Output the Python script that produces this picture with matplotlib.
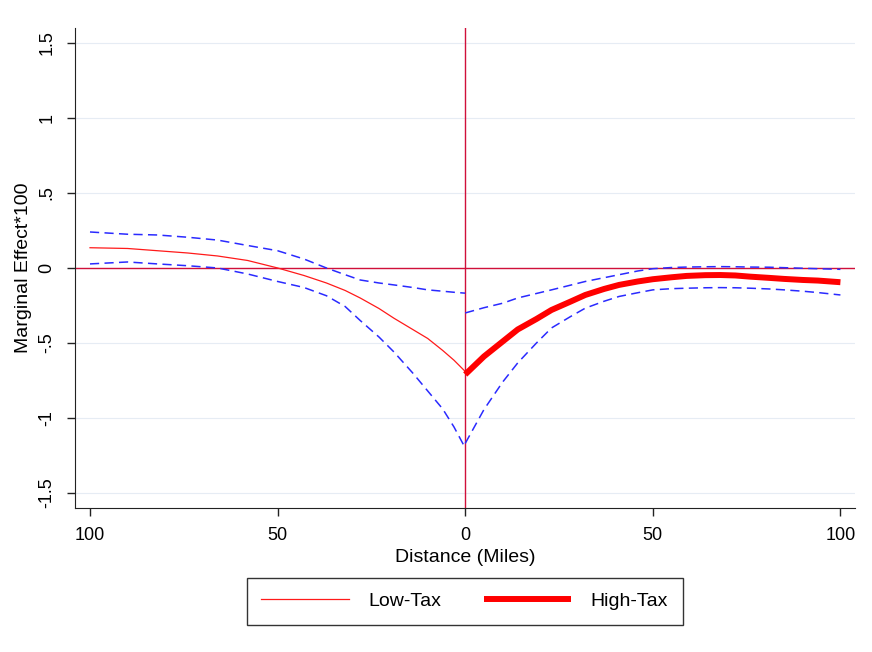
import matplotlib.pyplot as plt

plt.rcParams['font.family'] = ['Liberation Sans', 'DejaVu Sans']

# low-tax side (distance plotted to the left of the border)
low_x = [-100, -90, -82, -74, -66, -58, -50, -43, -37, -32, -28, -23, -19, -14, -10, -6, -3, 0]
low_est = [0.135, 0.130, 0.115, 0.100, 0.080, 0.050, 0.000, -0.050, -0.100, -0.150, -0.200, -0.270,
           -0.335, -0.410, -0.470, -0.550, -0.615, -0.690]
low_hi = [0.240, 0.225, 0.220, 0.205, 0.186, 0.150, 0.115, 0.060, 0.000, -0.045, -0.080, -0.100,
          -0.113, -0.130, -0.146, -0.155, -0.162, -0.168]
low_lo = [0.027, 0.040, 0.027, 0.015, 0.000, -0.040, -0.090, -0.130, -0.185, -0.257, -0.350, -0.460,
          -0.560, -0.700, -0.820, -0.940, -1.060, -1.200]

# high-tax side
high_x = [0, 5, 10, 14, 19, 23, 28, 32, 37, 41, 46, 50, 55, 59, 64, 68, 72, 76, 81, 85, 90, 94, 100]
high_est = [-0.710, -0.590, -0.490, -0.410, -0.340, -0.280, -0.225, -0.180, -0.140, -0.113, -0.090,
            -0.075, -0.062, -0.053, -0.048, -0.047, -0.050, -0.058, -0.066, -0.073, -0.080, -0.084, -0.095]
high_hi = [-0.300, -0.265, -0.235, -0.200, -0.170, -0.146, -0.115, -0.090, -0.065, -0.045, -0.020,
           -0.005, 0.003, 0.006, 0.008, 0.009, 0.008, 0.006, 0.005, 0.002, -0.002, -0.005, -0.009]
high_lo = [-1.170, -0.944, -0.760, -0.633, -0.500, -0.400, -0.325, -0.268, -0.222, -0.190, -0.165,
           -0.146, -0.138, -0.135, -0.132, -0.131, -0.132, -0.135, -0.140, -0.146, -0.155, -0.164, -0.180]

yticks = [-1.5, -1, -0.5, 0, 0.5, 1, 1.5]
ytick_labels = ['-1.5', '-1', '-.5', '0', '.5', '1', '1.5']
xticks = [-100, -50, 0, 50, 100]
xtick_labels = ['100', '50', '0', '50', '100']

fig = plt.figure(figsize=(8.72, 6.52), dpi=100)
ax = fig.add_axes([0.086, 0.221, 0.895, 0.736])

dash = (0, (6, 3.5))
ax.plot(low_x, low_hi, color='#2a2aff', lw=1.1, linestyle=dash)
ax.plot(low_x, low_lo, color='#2a2aff', lw=1.1, linestyle=dash)
ax.plot(high_x, high_hi, color='#2a2aff', lw=1.1, linestyle=dash)
ax.plot(high_x, high_lo, color='#2a2aff', lw=1.1, linestyle=dash)
l1, = ax.plot(low_x, low_est, color='#ff1a1a', lw=0.9, label='Low-Tax')
l2, = ax.plot(high_x, high_est, color='#ff0000', lw=4.3, solid_capstyle='butt', label='High-Tax')

ax.axhline(0, color='#d0103a', lw=1.0, zorder=1)
ax.axvline(0, color='#d0103a', lw=1.0, zorder=1)

ax.set_xlim(-104, 104)
ax.set_ylim(-1.6, 1.6)
ax.set_yticks(yticks)
ax.set_yticklabels(ytick_labels, rotation=90, va='center')
ax.set_xticks(xticks)
ax.set_xticklabels(xtick_labels)
ax.tick_params(labelsize=13, length=6, width=1, color='#222222')
ax.tick_params(axis='x', pad=8)
ax.tick_params(axis='y', pad=8)
ax.grid(axis='y', color='#e6ecf4', lw=0.8)
ax.set_axisbelow(True)
for s in ['top', 'right']:
    ax.spines[s].set_visible(False)
for s in ['left', 'bottom']:
    ax.spines[s].set_color('#222222')

ax.set_xlabel('Distance (Miles)', fontsize=14, labelpad=3)
ax.set_ylabel('Marginal Effect*100', fontsize=14, labelpad=5)

leg = fig.legend(handles=[l1, l2], loc='center', bbox_to_anchor=(0.533, 0.078), ncol=2,
                 fontsize=14, frameon=True, fancybox=False, edgecolor='black',
                 handlelength=4.5, columnspacing=2.2, borderpad=0.75, handletextpad=1.0)
leg.get_frame().set_linewidth(1.0)

fig.savefig('out.png', dpi=100)
